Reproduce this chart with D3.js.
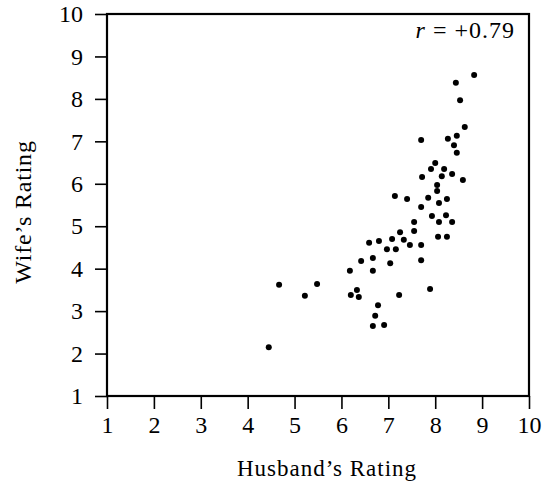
<!DOCTYPE html>
<html>
<head>
<meta charset="utf-8">
<script src="https://cdn.jsdelivr.net/npm/d3@7"></script>
<style>
  html, body { margin: 0; padding: 0; background: #fff; }
  svg { display: block; }
  text { font-family: "Liberation Serif", "Times New Roman", serif; fill: #000; }
</style>
</head>
<body>
<svg id="chart" width="550" height="485"></svg>
<script>
// Data
const husbandRating = [
  4.45, 4.67, 5.22, 5.48, 6.18, 6.20, 6.33, 6.37, 6.42, 6.59,
  6.67, 6.67, 6.72, 6.67, 6.78, 6.80, 6.91, 6.97, 7.04, 7.08,
  7.14, 7.16, 7.23, 7.25, 7.33, 7.40, 7.46, 7.55, 7.55, 7.70,
  7.70, 7.70, 7.70, 7.72, 7.85, 7.89, 7.91, 7.93, 8.00, 8.04,
  8.04, 8.08, 8.08, 8.06, 8.14, 8.19, 8.25, 8.23, 8.25, 8.27,
  8.36, 8.36, 8.40, 8.46, 8.46, 8.44, 8.53, 8.59, 8.63, 8.83
];
const wifeRating = [
  2.15, 3.62, 3.36, 3.64, 3.95, 3.38, 3.50, 3.33, 4.18, 4.61,
  4.25, 3.95, 2.89, 2.65, 3.14, 4.65, 2.67, 4.46, 4.13, 4.70,
  5.71, 4.46, 3.38, 4.86, 4.68, 5.64, 4.56, 5.10, 4.89, 7.03,
  5.45, 4.56, 4.20, 6.16, 5.67, 3.52, 6.35, 5.24, 6.49, 5.97,
  5.83, 5.55, 5.10, 4.75, 6.18, 6.35, 5.64, 5.26, 4.75, 7.06,
  5.10, 6.23, 6.91, 6.73, 7.13, 8.38, 7.97, 6.09, 7.34, 8.56
];
const xTicks = [1, 2, 3, 4, 5, 6, 7, 8, 9, 10];
const yTicks = [1, 2, 3, 4, 5, 6, 7, 8, 9, 10];
const xTickLabels = ["1", "2", "3", "4", "5", "6", "7", "8", "9", "10"];
const yTickLabels = ["1", "2", "3", "4", "5", "6", "7", "8", "9", "10"];
const xTitle = "Husband\u2019s Rating";
const yTitle = "Wife\u2019s Rating";
const annotation = ["r", " = +0.79"];

(function () {
const points = husbandRating.map((h, i) => ({ h, w: wifeRating[i] }));

const svg = d3.select("#chart");
svg.append("rect").attr("width", 550).attr("height", 485).attr("fill", "#fff");

const pLeft = 107, pRight = 529, pTop = 14, pBottom = 396;
const x = d3.scaleLinear().domain([1, 10]).range([pLeft, pRight]);
const y = d3.scaleLinear().domain([1, 10]).range([pBottom, pTop]);

// X axis
const xAxis = svg.append("g")
  .attr("transform", `translate(0,${pBottom})`)
  .call(d3.axisBottom(x).tickValues(xTicks)
    .tickFormat((d, i) => xTickLabels[i])
    .tickSize(13).tickSizeOuter(0).tickPadding(7));
xAxis.select(".domain").remove();
xAxis.selectAll(".tick line").attr("stroke", "#000").attr("stroke-width", 1.6);
xAxis.selectAll(".tick text")
  .style("font-family", '"Liberation Serif", serif')
  .style("font-size", "24px").attr("fill", "#000");

// Y axis
const yAxis = svg.append("g")
  .attr("transform", `translate(${pLeft},0)`)
  .call(d3.axisLeft(y).tickValues(yTicks)
    .tickFormat((d, i) => yTickLabels[i])
    .tickSize(12).tickSizeOuter(0).tickPadding(12));
yAxis.select(".domain").remove();
yAxis.selectAll(".tick line").attr("stroke", "#000").attr("stroke-width", 1.6);
yAxis.selectAll(".tick text")
  .style("font-family", '"Liberation Serif", serif')
  .style("font-size", "24px").attr("fill", "#000");

// Frame
svg.append("rect")
  .attr("x", x(1)).attr("y", y(10))
  .attr("width", x(10) - x(1)).attr("height", y(1) - y(10))
  .attr("fill", "none").attr("stroke", "#000").attr("stroke-width", 2.2);

// Points
svg.append("g").selectAll("circle")
  .data(points).enter().append("circle")
  .attr("cx", d => x(d.h)).attr("cy", d => y(d.w))
  .attr("r", 3).attr("fill", "#000");

// Titles
svg.append("text")
  .attr("x", (pLeft + pRight) / 2 + 9).attr("y", 476)
  .attr("text-anchor", "middle")
  .style("font-size", "23px").style("letter-spacing", "1px")
  .text(xTitle);

svg.append("text")
  .attr("transform", `translate(31,${(pTop + pBottom) / 2 + 7}) rotate(-90)`)
  .attr("text-anchor", "middle")
  .style("font-size", "24px").style("letter-spacing", "0.8px")
  .text(yTitle);

// Annotation
const ann = svg.append("text")
  .attr("x", 515).attr("y", 38)
  .attr("text-anchor", "end")
  .style("font-size", "24px").style("letter-spacing", "1px");
ann.append("tspan").style("font-style", "italic").text(annotation[0]);
ann.append("tspan").text(annotation[1]);
})();
</script>
</body>
</html>
